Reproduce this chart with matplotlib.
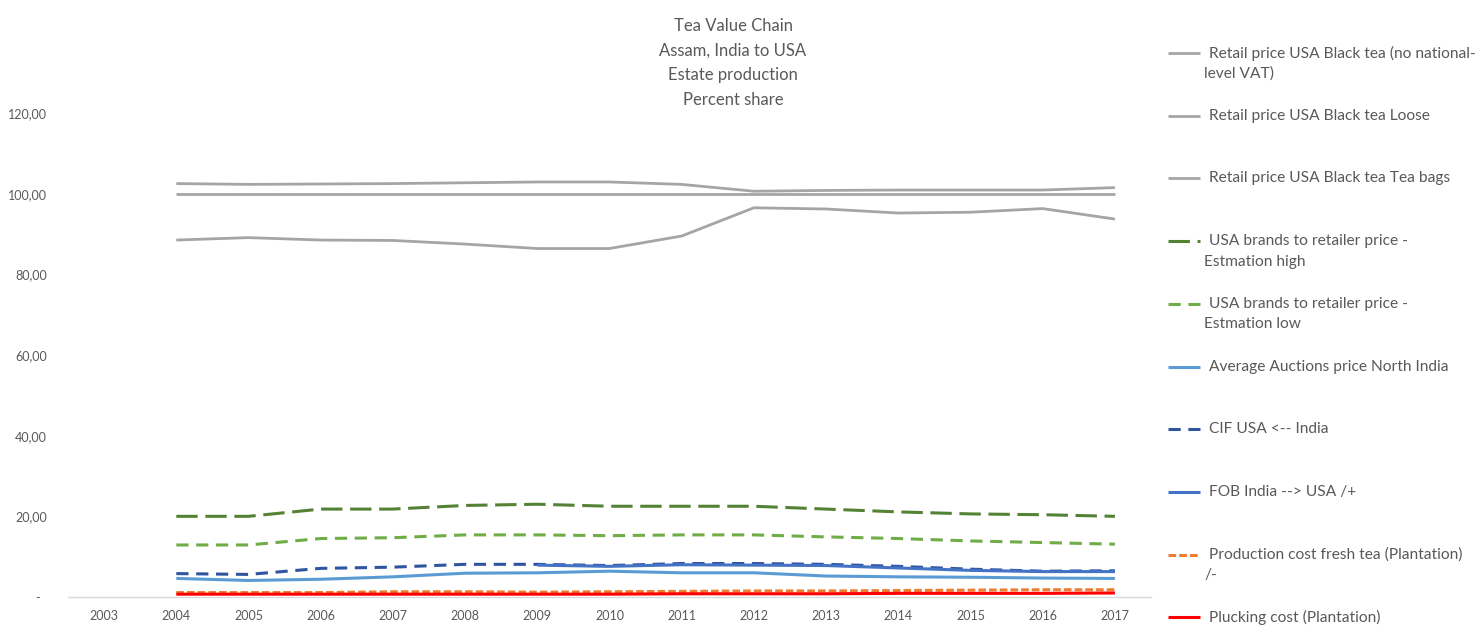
import numpy as np
import matplotlib
matplotlib.use("Agg")
import matplotlib.pyplot as plt
from matplotlib.lines import Line2D

plt.rcParams['font.family'] = ['Lato', 'DejaVu Sans']

# ---- data (percent share) ----
years = [str(y) for y in range(2003, 2018)]
nan = np.nan
retail_novat = [nan, 100.0, 100.0, 100.0, 100.0, 100.0, 100.0, 100.0, 100.0, 100.0, 100.0, 100.0, 100.0, 100.0, 100.0]
retail_loose = [nan, 102.5, 102.3, 102.4, 102.5, 102.7, 102.9, 102.9, 102.3, 100.6, 100.8, 100.9, 100.9, 100.9, 101.5]
retail_bags = [nan, 88.5, 89.1, 88.5, 88.4, 87.5, 86.4, 86.4, 89.5, 96.5, 96.2, 95.2, 95.4, 96.3, 93.7]
brands_high = [nan, 20.0, 20.0, 21.8, 21.8, 22.7, 23.0, 22.5, 22.5, 22.5, 21.8, 21.1, 20.6, 20.4, 20.0]
brands_low = [nan, 12.9, 12.9, 14.5, 14.7, 15.4, 15.4, 15.2, 15.4, 15.4, 14.9, 14.5, 13.9, 13.5, 13.1]
auctions = [nan, 4.6, 4.1, 4.4, 5.0, 5.9, 6.0, 6.4, 6.0, 6.0, 5.2, 5.0, 4.9, 4.7, 4.6]
cif = [nan, 5.8, 5.6, 7.1, 7.4, 8.1, 8.1, 7.8, 8.3, 8.3, 8.1, 7.6, 6.9, 6.4, 6.5]
fob = [nan, nan, nan, nan, nan, nan, 7.9, 7.6, 8.0, 7.9, 7.8, 7.2, 6.6, 6.3, 6.3]
prod_cost = [nan, 1.1, 1.1, 1.1, 1.3, 1.3, 1.2, 1.3, 1.4, 1.5, 1.5, 1.6, 1.7, 1.8, 1.8]
plucking = [nan, 0.7, 0.7, 0.7, 0.7, 0.7, 0.7, 0.7, 0.8, 0.8, 0.8, 0.9, 0.9, 0.9, 1.0]

labels = [
    "Retail price USA Black tea (no national-\nlevel VAT)",
    "Retail price USA Black tea Loose",
    "Retail price USA Black tea Tea bags",
    " USA brands to retailer price -\nEstmation high",
    " USA brands to retailer price -\nEstmation low",
    "Average Auctions price North India",
    "CIF USA <-- India",
    "FOB India --> USA /+",
    "Production cost fresh tea (Plantation)\n/-",
    "Plucking cost (Plantation)",
]
series = [retail_novat, retail_loose, retail_bags, brands_high, brands_low,
          auctions, cif, fob, prod_cost, plucking]
styles = [
    dict(color='#A5A5A5', lw=2.0, ls='-'),
    dict(color='#A5A5A5', lw=2.0, ls='-'),
    dict(color='#A5A5A5', lw=2.0, ls='-'),
    dict(color='#548235', lw=2.2, ls=(0, (7, 2.5))),
    dict(color='#70AD47', lw=2.2, ls=(0, (4, 2.5))),
    dict(color='#5B9BD5', lw=2.2, ls='-'),
    dict(color='#2F55A0', lw=2.2, ls=(0, (4, 2.5))),
    dict(color='#4472C4', lw=2.2, ls='-'),
    dict(color='#ED7D31', lw=2.2, ls=(0, (2.5, 1))),
    dict(color='#FF0000', lw=2.2, ls='-'),
]

W, H = 1483, 626
fig = plt.figure(figsize=(W / 100, H / 100), dpi=100)
ax = fig.add_axes([68 / W, 1 - 597 / H, (1151 - 68) / W, (597 - 113) / H])

x = np.arange(len(years))
for vals, st in zip(series, styles):
    ax.plot(x, vals, color=st['color'], lw=st['lw'], linestyle=st['ls'],
            solid_capstyle='butt', dash_capstyle='butt')

ax.set_xlim(-0.5, len(years) - 0.5)
ax.set_ylim(0, 120)
ax.set_xticks(x)
ax.set_xticklabels(years)
yt = [0, 20, 40, 60, 80, 100, 120]
ax.set_yticks(yt)
ax.set_yticklabels(['-  ' if v == 0 else f"{v:.2f}".replace('.', ',') for v in yt])
ax.tick_params(axis='both', length=0, labelsize=9, labelcolor='#595959')
ax.tick_params(axis='y', pad=15)
ax.tick_params(axis='x', pad=9)
for s in ['top', 'right', 'left']:
    ax.spines[s].set_visible(False)
ax.spines['bottom'].set_color('#D9D9D9')
ax.spines['bottom'].set_linewidth(1)

# title
fig.text(733 / W, 1 - 18 / H, "Tea Value Chain\nAssam, India to USA\nEstate production\nPercent share",
         ha='center', va='top', fontsize=12, color='#595959', linespacing=1.66)

# legend drawn at right side, evenly spaced entries
y0, step = 53, 62.7
for i, (lab, st) in enumerate(zip(labels, styles)):
    yp = y0 + i * step
    fig.add_artist(Line2D([1168 / W, 1200 / W], [1 - yp / H, 1 - yp / H],
                          transform=fig.transFigure, color=st['color'], lw=st['lw'],
                          linestyle=st['ls'], solid_capstyle='butt', dash_capstyle='butt'))
    for k, line in enumerate(lab.split('\n')):
        xx = 1209 if k == 0 else 1204
        line = line.lstrip()
        fig.text(xx / W, 1 - (yp + k * 20.5) / H, line, ha='left', va='center',
                 fontsize=11.2, color='#595959')

fig.savefig('out.png', dpi=100, facecolor='white')
